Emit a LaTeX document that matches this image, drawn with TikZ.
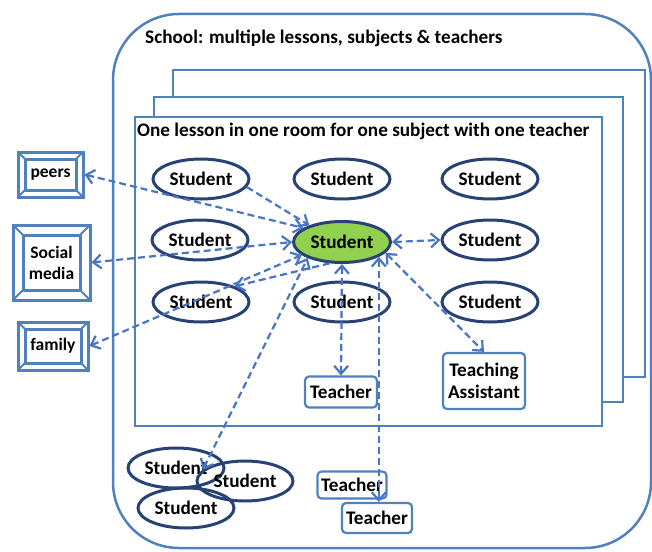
\documentclass[tikz,border=0pt]{standalone}
\usepackage{fontspec}
\setmainfont{Carlito}
\usetikzlibrary{shapes.geometric,arrows.meta}
\definecolor{frameblue}{RGB}{79,129,189}
\definecolor{arrowblue}{RGB}{72,118,196}
\definecolor{navy}{RGB}{40,66,118}
\definecolor{lgreen}{RGB}{146,208,80}
\tikzset{
  myhead/.tip={Straight Barb[length=8pt,width=14pt,line width=2.2pt]},
}
\begin{document}
\begin{tikzpicture}[x=1pt,y=-1pt,
  mainfont/.style={font=\fontsize{19.2}{22}\selectfont\bfseries},
  stud/.style={ellipse, draw=navy, line width=3pt, minimum width=96pt, minimum height=40pt, inner sep=0pt, mainfont},
  me/.style={stud, fill=lgreen, minimum width=97pt, minimum height=41pt},
  tbox/.style={rectangle, rounded corners=4pt, draw=frameblue, line width=2.2pt, fill=white, inner sep=0pt, align=center, mainfont},
  frame/.style={draw=frameblue, line width=2.5pt},
  bevel/.style={rectangle, draw=frameblue, line width=3pt, fill=white, inner sep=0pt, align=center,
    font=\fontsize{17.5}{21}\selectfont\bfseries,
    path picture={
      \draw[frameblue, line width=3pt]
        ([shift={(#1,-#1)}]path picture bounding box.north west) rectangle
        ([shift={(-#1,#1)}]path picture bounding box.south east);
      \draw[frameblue, line width=2pt]
        (path picture bounding box.north west) -- ([shift={(#1,-#1)}]path picture bounding box.north west)
        (path picture bounding box.north east) -- ([shift={(-#1,-#1)}]path picture bounding box.north east)
        (path picture bounding box.south west) -- ([shift={(#1,#1)}]path picture bounding box.south west)
        (path picture bounding box.south east) -- ([shift={(-#1,#1)}]path picture bounding box.south east);
    }},
  lnk/.style={draw=arrowblue, line width=2.2pt, dash pattern=on 7pt off 4pt},
  both/.style={lnk, myhead-myhead},
  one/.style={lnk, -myhead},
]
\useasboundingbox (0,0) rectangle (652,551);

% school
\draw[frame, rounded corners=66pt] (113,14) rectangle (651,548);
\node[anchor=west, mainfont, inner sep=0pt] (schooltitle) at (145,38) {School: multiple lessons, subjects \& teachers};

% stacked lesson rooms
\draw[frame, fill=white] (173,70) rectangle (645,377);
\draw[frame, fill=white] (154,97) rectangle (623,402);
\draw[frame, fill=white] (135,117) rectangle (602,426);
\node[anchor=west, mainfont, inner sep=0pt] (roomtitle) at (137,131) {One lesson in one room for one subject with one teacher};

% outside influences
\node[bevel=7pt, minimum width=65pt, minimum height=45pt] (peers) at (50.5,174.5) {peers};
\node[bevel=10pt, minimum width=77pt, minimum height=75pt] (social) at (51.5,262.5) {Social\\media};
\node[bevel=7pt, minimum width=70pt, minimum height=48pt] (family) at (53,346) {family};

% students in the room
\node[stud] (s11) at (201,179) {Student};
\node[stud] (s12) at (342,179) {Student};
\node[stud] (s13) at (490,179) {Student};
\node[stud] (s21) at (200,240) {Student};
\node[me]   (me)  at (342,242) {Student};
\node[stud] (s23) at (490,240) {Student};
\node[stud] (s31) at (201,302) {Student};
\node[stud] (s32) at (342,302) {Student};
\node[stud] (s33) at (490,302) {Student};

\node[tbox, minimum width=72pt, minimum height=31pt] (troom) at (341,392) {Teacher};
\node[tbox, minimum width=82pt, minimum height=56pt] (ta) at (484,381) {Teaching\\Assistant};

% outside the room
\node[stud] (sA) at (176,468) {Student};
\node[stud] (sB) at (245,481) {Student};
\node[stud] (sC) at (186,508) {Student};
\node[tbox, minimum width=69pt, minimum height=27pt] (t1) at (352,485) {Teacher};
\node[tbox, minimum width=70pt, minimum height=30pt] (t2) at (377,518) {Teacher};

% connectors
\draw[both] (peers.east) -- (me.160);
\draw[one] (s11.-10) -- (me.153);
\draw[both] (social.east) -- (me.180);
\draw[both] (family.east) -- (me.198);
\draw[both] (sB.165) -- (me.205);
\draw[one] (me.240) -- (s31.25);
\draw[both] (me.south) -- (troom.north);
\draw[both] (me.338) -- (me.338 |- t2.north);
\draw[both] (me.346) -- (ta.north);
\draw[both] (me.east) -- (s23.west);
\end{tikzpicture}
\end{document}
